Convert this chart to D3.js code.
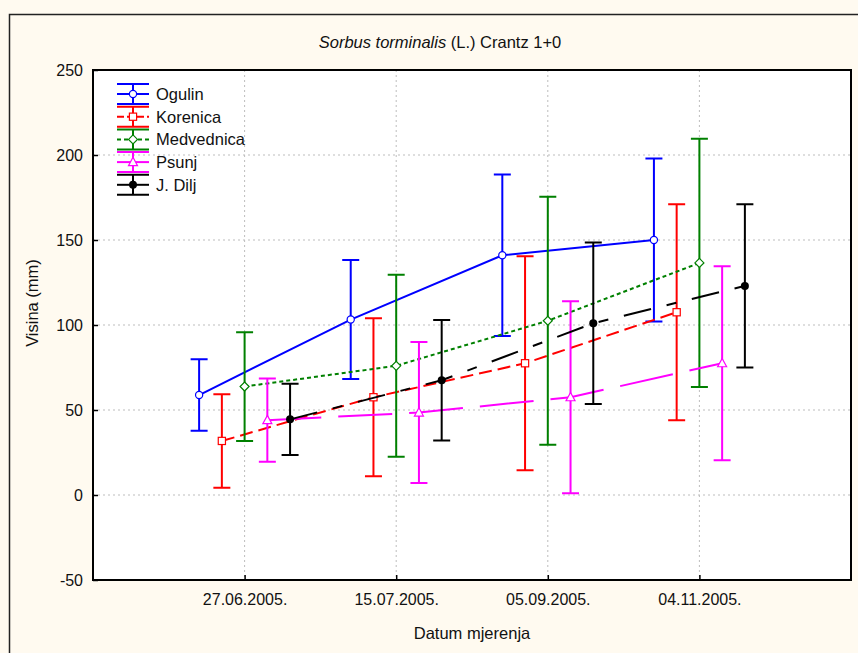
<!DOCTYPE html>
<html>
<head>
<meta charset="utf-8">
<script src="https://cdn.jsdelivr.net/npm/d3@7"></script>
<style>
  body { margin: 0; background: #fffaf0; }
  svg { display: block; font-family: "Liberation Sans", Arial, sans-serif; }
</style>
</head>
<body>
<svg id="chart" width="858" height="653"></svg>
<script>
// dates of measurement (x categories)
const dates = ['27.06.2005.', '15.07.2005.', '05.09.2005.', '04.11.2005.'];
const yTicks = [-50, 0, 50, 100, 150, 200, 250];

// series names, mean height (mm) and half-width of the error bar
const names = ['Ogulin', 'Korenica', 'Medvednica', 'Psunj', 'J. Dilj'];
const ogulinMean = [58.8, 103.2, 141, 150];
const ogulinErr = [21, 35, 47.5, 48];
const korenicaMean = [31.8, 57.5, 77.5, 107.5];
const korenicaErr = [27.5, 46.5, 63, 63.5];
const medvednicaMean = [63.8, 76, 102.5, 136.5];
const medvednicaErr = [32, 53.5, 73, 73];
const psunjMean = [44, 48.5, 57.5, 77.5];
const psunjErr = [24.5, 41.5, 56.5, 57];
const diljMean = [44.5, 67.5, 101, 123];
const diljErr = [21, 35.5, 47.5, 48];

const series = [
  { name: names[0], mean: ogulinMean, err: ogulinErr, color: '#0000ff', dash: null, legDash: null, marker: 'circle', off: -0.3 },
  { name: names[1], mean: korenicaMean, err: korenicaErr, color: '#ff0000', dash: '13,6', legDash: '7,3', marker: 'square', off: -0.15 },
  { name: names[2], mean: medvednicaMean, err: medvednicaErr, color: '#008000', dash: '4,3', legDash: '4,3', marker: 'diamond', off: 0 },
  { name: names[3], mean: psunjMean, err: psunjErr, color: '#ff00ff', dash: '54,17', legDash: null, marker: 'triangle', off: 0.15 },
  { name: names[4], mean: diljMean, err: diljErr, color: '#000000', dash: '28,16,10,16', legDash: null, marker: 'dot', off: 0.3 }
];

const margin = { top: 70, right: 7, bottom: 73, left: 93 };
const W = 858, H = 653;
const svg = d3.select('#chart');

// figure frame
svg.append('rect')
  .attr('x', 9.5).attr('y', 14.5)
  .attr('width', W).attr('height', H)
  .attr('fill', '#fffaf0')
  .attr('stroke', '#222').attr('stroke-width', 1.5);

const x = d3.scaleLinear().domain([0, 5]).range([margin.left, W - margin.right]);
const y = d3.scaleLinear().domain([-50, 250]).range([H - margin.bottom, margin.top]);

// plot background
svg.append('rect')
  .attr('x', x(0)).attr('y', y(250))
  .attr('width', x(5) - x(0)).attr('height', y(-50) - y(250))
  .attr('fill', '#fff');

// grid
const grid = svg.append('g').attr('stroke', '#bdbdbd').attr('stroke-dasharray', '2,3');
grid.selectAll('.hg').data(yTicks.filter(d => d > -50 && d < 250)).join('line')
  .attr('x1', x(0)).attr('x2', x(5))
  .attr('y1', d => y(d)).attr('y2', d => y(d));
grid.selectAll('.vg').data(dates).join('line')
  .attr('x1', (d, i) => x(i + 1)).attr('x2', (d, i) => x(i + 1))
  .attr('y1', y(250)).attr('y2', y(-50));

// axes (ticks pointing inside)
const yAxis = svg.append('g').attr('transform', `translate(${x(0)},0)`)
  .call(d3.axisLeft(y).tickValues(yTicks).tickFormat(d => String(d))
    .tickSizeInner(-5).tickSizeOuter(0).tickPadding(10));
const xAxis = svg.append('g').attr('transform', `translate(0,${y(-50)})`)
  .call(d3.axisBottom(x).tickValues([1, 2, 3, 4]).tickFormat(d => dates[d - 1])
    .tickSizeInner(-5).tickSizeOuter(0).tickPadding(14));
[yAxis, xAxis].forEach(g => {
  g.select('.domain').remove();
  g.selectAll('.tick line').attr('stroke', '#000').attr('stroke-width', 1.5);
  g.selectAll('.tick text').attr('fill', '#111').attr('font-size', '16px')
    .attr('font-family', '"Liberation Sans", Arial, sans-serif');
});

function drawMarker(g, s, cx, cy) {
  if (s.marker === 'circle') {
    g.append('circle').attr('cx', cx).attr('cy', cy).attr('r', 3.6)
      .attr('fill', '#fff').attr('stroke', s.color).attr('stroke-width', 1.2);
  } else if (s.marker === 'dot') {
    g.append('circle').attr('cx', cx).attr('cy', cy).attr('r', 4)
      .attr('fill', s.color);
  } else if (s.marker === 'square') {
    g.append('rect').attr('x', cx - 3.6).attr('y', cy - 3.6).attr('width', 7.2).attr('height', 7.2)
      .attr('fill', '#fff').attr('stroke', s.color).attr('stroke-width', 1.2);
  } else if (s.marker === 'diamond') {
    g.append('path').attr('d', `M${cx},${cy - 4.5}L${cx + 4.5},${cy}L${cx},${cy + 4.5}L${cx - 4.5},${cy}Z`)
      .attr('fill', '#fff').attr('stroke', s.color).attr('stroke-width', 1.2);
  } else if (s.marker === 'triangle') {
    g.append('path').attr('d', `M${cx},${cy - 4.8}L${cx + 4.5},${cy + 3.5}L${cx - 4.5},${cy + 3.5}Z`)
      .attr('fill', '#fff').attr('stroke', s.color).attr('stroke-width', 1.2);
  }
}

const cap = 8.5;
const plotG = svg.append('g');
series.forEach(s => {
  const g = plotG.append('g');
  const pts = s.mean.map((m, i) => [x(i + 1 + s.off), y(m), s.err[i]]);
  // error bars
  pts.forEach(([px, , e], i) => {
    const top = y(s.mean[i] + e), bot = y(s.mean[i] - e);
    g.append('path')
      .attr('d', `M${px},${top}V${bot}M${px - cap},${top}H${px + cap}M${px - cap},${bot}H${px + cap}`)
      .attr('stroke', s.color).attr('stroke-width', 2).attr('fill', 'none');
  });
  // line of means
  g.append('path')
    .attr('d', d3.line()(pts.map(p => [p[0], p[1]])))
    .attr('fill', 'none').attr('stroke', s.color).attr('stroke-width', 2)
    .attr('stroke-dasharray', s.dash);
  pts.forEach(p => drawMarker(g, s, p[0], p[1]));
});

// plot frame
svg.append('rect')
  .attr('x', x(0)).attr('y', y(250))
  .attr('width', x(5) - x(0)).attr('height', y(-50) - y(250))
  .attr('fill', 'none').attr('stroke', '#000').attr('stroke-width', 2);

// legend
const legend = svg.append('g');
series.forEach((s, i) => {
  const ly = 94 + i * 22.7;
  const lg = legend.append('g');
  lg.append('path')
    .attr('d', `M117,${ly - 10}H149M117,${ly + 10}H149M133,${ly - 10}V${ly + 10}`)
    .attr('stroke', s.color).attr('stroke-width', 2);
  lg.append('line').attr('x1', 117).attr('x2', 149).attr('y1', ly).attr('y2', ly)
    .attr('stroke', s.color).attr('stroke-width', 2)
    .attr('stroke-dasharray', s.legDash);
  drawMarker(lg, s, 133, ly);
  lg.append('text').attr('x', 156).attr('y', ly + 6)
    .attr('font-size', '16.5px').attr('fill', '#111').text(s.name);
});

// title and axis labels
const title = svg.append('text').attr('x', 440).attr('y', 48)
  .attr('text-anchor', 'middle').attr('font-size', '16.5px').attr('fill', '#111');
title.append('tspan').attr('font-style', 'italic').text('Sorbus torminalis');
title.append('tspan').text(' (L.) Crantz 1+0');

svg.append('text').attr('x', 472).attr('y', 639)
  .attr('text-anchor', 'middle').attr('font-size', '16.5px').attr('fill', '#111')
  .text('Datum mjerenja');

svg.append('text').attr('transform', 'translate(38,303) rotate(-90)')
  .attr('text-anchor', 'middle').attr('font-size', '16.5px').attr('fill', '#111')
  .text('Visina (mm)');
</script>
</body>
</html>
